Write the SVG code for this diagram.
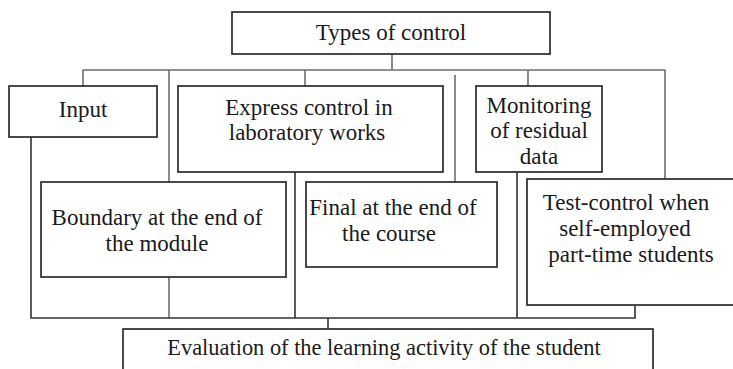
<svg xmlns="http://www.w3.org/2000/svg" width="733" height="369" viewBox="0 0 733 369">
<style>
.box{fill:#fff;stroke:#2b2b2b;stroke-width:1.7}
text{font-family:'Liberation Serif','Times New Roman','DejaVu Serif',serif;font-size:23px;fill:#1a1a1a;text-anchor:middle}
.c{fill:none;stroke:#6e6e6e;stroke-width:1.6}
.cd{fill:none;stroke:#333;stroke-width:1.6}
</style>
<rect width="733" height="369" fill="#fff"/>
<g id="connectors">
<path class="c" d="M392 54V70M83 86V70H665V180M169 70V318M305 70V86M528 70V86M455 75V182"/>
<path class="cd" d="M31 137V318H635V306M295 172V318M517 172V318M328 318V329"/>
</g>
<g id="types"><rect class="box" x="232" y="12" width="318" height="42"/><text x="391" y="40">Types of control</text></g>
<g id="input"><rect class="box" x="9" y="86" width="148" height="51"/><text x="83" y="117">Input</text></g>
<g id="express"><rect class="box" x="178" y="86" width="265" height="86"/><text x="309" y="115">Express control in</text><text x="307" y="140">laboratory works</text></g>
<g id="monitoring"><rect class="box" x="476" y="86" width="126" height="86"/><text x="539" y="113">Monitoring</text><text x="539" y="138">of residual</text><text x="539" y="164">data</text></g>
<g id="boundary"><rect class="box" x="41" y="182" width="245" height="95"/><text x="157" y="225">Boundary at the end of</text><text x="157" y="251">the module</text></g>
<g id="final"><rect class="box" x="306" y="182" width="191" height="85"/><text x="393" y="215">Final at the end of</text><text x="389" y="241">the course</text></g>
<g id="test"><rect class="box" x="527" y="179" width="215" height="126"/><text x="626" y="210">Test-control when</text><text x="625" y="236">self-employed</text><text x="631" y="262">part-time students</text></g>
<g id="evaluation"><rect class="box" x="123" y="329" width="530" height="50"/><text x="384" y="355" style="font-size:22.4px">Evaluation of the learning activity of the student</text></g>
</svg>
